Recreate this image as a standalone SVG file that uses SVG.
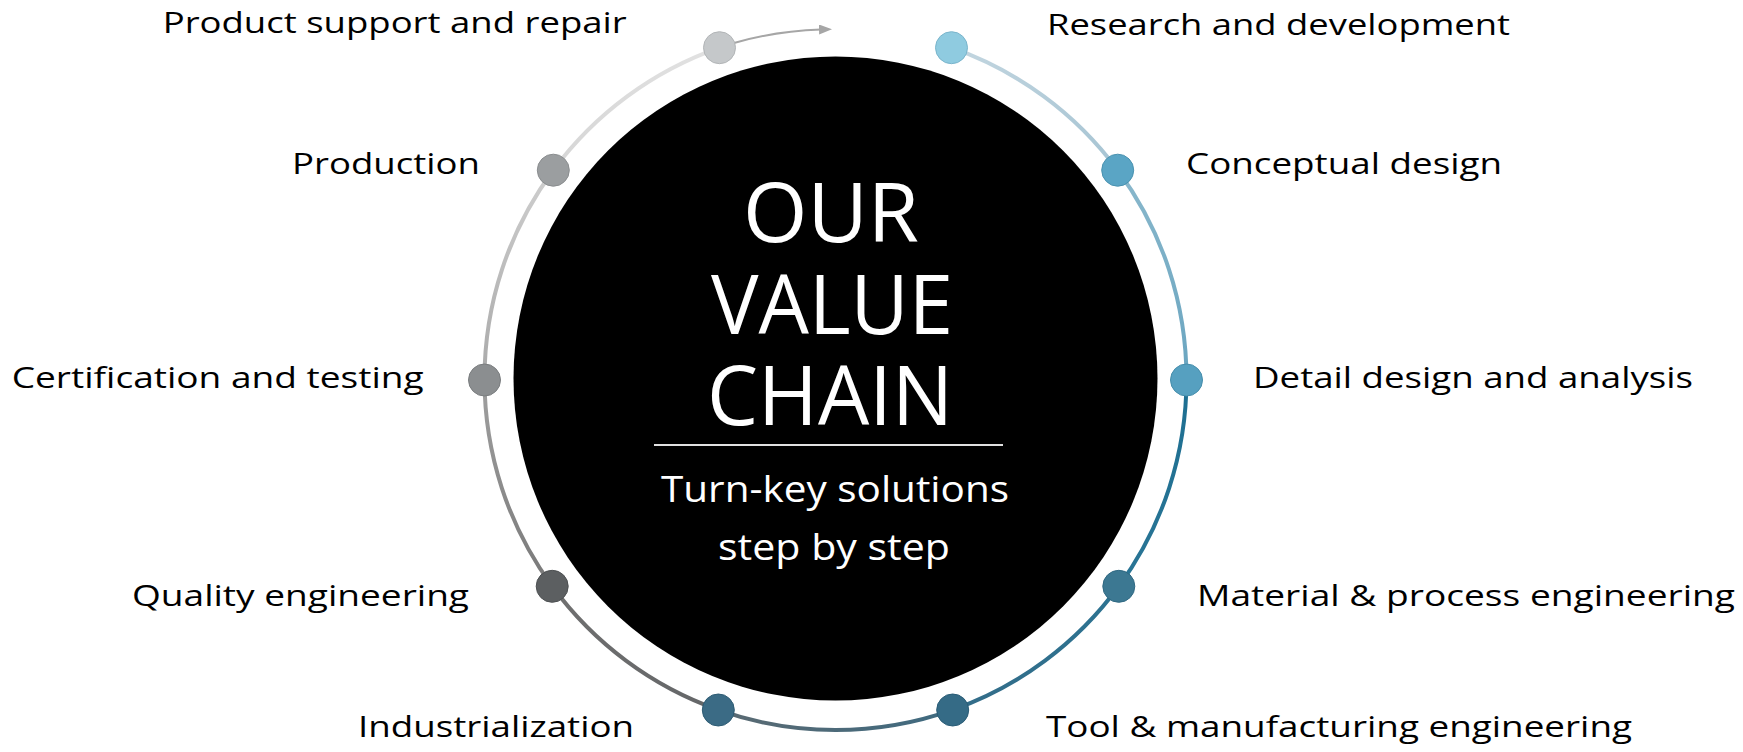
<svg xmlns="http://www.w3.org/2000/svg" width="1743" height="752" viewBox="0 0 1743 752">
<style>
.lbl{font-family:"Open Sans","Liberation Sans",sans-serif;font-size:29px;fill:#000}
.big{font-family:"Open Sans","Liberation Sans",sans-serif;font-size:83px;fill:#fff;text-anchor:middle}
.sub{font-family:"Open Sans","Liberation Sans",sans-serif;font-size:37px;fill:#fff;text-anchor:middle}
.ring{fill:none;stroke-width:4;stroke-linecap:round}
.dot{stroke-width:1}
</style>
<defs>
<linearGradient id="g1" gradientUnits="userSpaceOnUse" x1="951.5" y1="47.7" x2="1117.7" y2="170.2"><stop offset="0" stop-color="#c3d6e0"/><stop offset="1" stop-color="#a6c4d3"/></linearGradient>
<linearGradient id="g2" gradientUnits="userSpaceOnUse" x1="1117.7" y1="170.2" x2="1186.5" y2="379"><stop offset="0" stop-color="#8ab8cc"/><stop offset="1" stop-color="#6aa5c0"/></linearGradient>
<linearGradient id="g3" gradientUnits="userSpaceOnUse" x1="1186.5" y1="379" x2="1118.8" y2="586.3"><stop offset="0" stop-color="#1d6f92"/><stop offset="1" stop-color="#2a7595"/></linearGradient>
<linearGradient id="g4" gradientUnits="userSpaceOnUse" x1="1118.8" y1="586.3" x2="952.7" y2="709.9"><stop offset="0" stop-color="#2c7392"/><stop offset="1" stop-color="#336c88"/></linearGradient>
<linearGradient id="g5" gradientUnits="userSpaceOnUse" x1="952.7" y1="709.9" x2="718.3" y2="709.9"><stop offset="0" stop-color="#3e6a80"/><stop offset="1" stop-color="#5b6a72"/></linearGradient>
<linearGradient id="g6" gradientUnits="userSpaceOnUse" x1="718.3" y1="709.9" x2="552.2" y2="586.3"><stop offset="0" stop-color="#646668"/><stop offset="1" stop-color="#707070"/></linearGradient>
<linearGradient id="g7" gradientUnits="userSpaceOnUse" x1="552.2" y1="586.3" x2="484.5" y2="379"><stop offset="0" stop-color="#787878"/><stop offset="1" stop-color="#a0a0a0"/></linearGradient>
<linearGradient id="g8" gradientUnits="userSpaceOnUse" x1="484.5" y1="379" x2="553.3" y2="170.2"><stop offset="0" stop-color="#aaaaaa"/><stop offset="1" stop-color="#cfcfcf"/></linearGradient>
<linearGradient id="g9" gradientUnits="userSpaceOnUse" x1="553.3" y1="170.2" x2="719.5" y2="47.7"><stop offset="0" stop-color="#d6d6d6"/><stop offset="1" stop-color="#e2e2e2"/></linearGradient>
<marker id="ah" markerWidth="14" markerHeight="10" refX="2" refY="5" orient="auto" markerUnits="userSpaceOnUse"><path d="M0,0 L13,5 L0,10 Z" fill="#a6a6a6"/></marker>
</defs>
<rect width="1743" height="752" fill="#fff"/>
<g id="hub">
<circle cx="835.5" cy="378.5" r="322" fill="#000"/>
<text class="big" x="831" y="242" textLength="176" lengthAdjust="spacingAndGlyphs">OUR</text>
<text class="big" x="832" y="333.5" textLength="242" lengthAdjust="spacingAndGlyphs">VALUE</text>
<text class="big" x="830" y="424.6" textLength="246" lengthAdjust="spacingAndGlyphs">CHAIN</text>
<line x1="654" y1="445" x2="1003" y2="445" stroke="#e0e0e0" stroke-width="2"/>
<text class="sub" x="835" y="501.7" textLength="348" lengthAdjust="spacingAndGlyphs">Turn-key solutions</text>
<text class="sub" x="834" y="560" textLength="232" lengthAdjust="spacingAndGlyphs">step by step</text>
</g>
<g id="connectors">
<path class="ring" stroke="url(#g1)" d="M951.5,47.7 A351,351 0 0 1 1117.7,170.2"/>
<path class="ring" stroke="url(#g2)" d="M1117.7,170.2 A351,351 0 0 1 1186.5,379"/>
<path class="ring" stroke="url(#g3)" d="M1186.5,379 A351,351 0 0 1 1118.8,586.3"/>
<path class="ring" stroke="url(#g4)" d="M1118.8,586.3 A351,351 0 0 1 952.7,709.9"/>
<path class="ring" stroke="url(#g5)" d="M952.7,709.9 A351,351 0 0 1 718.3,709.9"/>
<path class="ring" stroke="url(#g6)" d="M718.3,709.9 A351,351 0 0 1 552.2,586.3"/>
<path class="ring" stroke="url(#g7)" d="M552.2,586.3 A351,351 0 0 1 484.5,379"/>
<path class="ring" stroke="url(#g8)" d="M484.5,379 A351,351 0 0 1 553.3,170.2"/>
<path class="ring" stroke="url(#g9)" d="M553.3,170.2 A351,351 0 0 1 719.5,47.7"/>
<path d="M734,43 Q775,31 821,29.5" fill="none" stroke="#a6a6a6" stroke-width="2" marker-end="url(#ah)"/>
</g>
<g id="n-research"><circle class="dot" cx="951.5" cy="47.7" r="16" fill="#8fcbe0" stroke="#7ab5cc"/><text class="lbl" x="1047" y="35" textLength="463" lengthAdjust="spacingAndGlyphs">Research and development</text></g>
<g id="n-conceptual"><circle class="dot" cx="1117.7" cy="170.2" r="16" fill="#5aa5c5" stroke="#4a92b0"/><text class="lbl" x="1186" y="174" textLength="316" lengthAdjust="spacingAndGlyphs">Conceptual design</text></g>
<g id="n-detail"><circle class="dot" cx="1186.5" cy="380" r="16" fill="#56a0c0" stroke="#468eac"/><text class="lbl" x="1253" y="387.7" textLength="440" lengthAdjust="spacingAndGlyphs">Detail design and analysis</text></g>
<g id="n-material"><circle class="dot" cx="1118.8" cy="586.3" r="16" fill="#3c7892" stroke="#2f6882"/><text class="lbl" x="1197" y="606" textLength="538" lengthAdjust="spacingAndGlyphs">Material &amp; process engineering</text></g>
<g id="n-tool"><circle class="dot" cx="952.7" cy="710" r="16" fill="#356b86" stroke="#2a5c76"/><text class="lbl" x="1046" y="737" textLength="586" lengthAdjust="spacingAndGlyphs">Tool &amp; manufacturing engineering</text></g>
<g id="n-industrialization"><circle class="dot" cx="718.3" cy="710" r="16" fill="#3b6b85" stroke="#2e5c74"/><text class="lbl" x="358" y="737" textLength="276" lengthAdjust="spacingAndGlyphs">Industrialization</text></g>
<g id="n-quality"><circle class="dot" cx="552.2" cy="586.3" r="16" fill="#5c5f61" stroke="#4d5052"/><text class="lbl" x="132" y="606" textLength="337" lengthAdjust="spacingAndGlyphs">Quality engineering</text></g>
<g id="n-certification"><circle class="dot" cx="484.5" cy="380" r="16" fill="#8b8e90" stroke="#7a7d7f"/><text class="lbl" x="11.7" y="387.7" textLength="412" lengthAdjust="spacingAndGlyphs">Certification and testing</text></g>
<g id="n-production"><circle class="dot" cx="553.3" cy="170.2" r="16" fill="#9b9ea0" stroke="#8a8d8f"/><text class="lbl" x="292" y="174" textLength="188" lengthAdjust="spacingAndGlyphs">Production</text></g>
<g id="n-support"><circle class="dot" cx="719.5" cy="47.7" r="16" fill="#c5c8ca" stroke="#b2b5b7"/><text class="lbl" x="162.7" y="33" textLength="464" lengthAdjust="spacingAndGlyphs">Product support and repair</text></g>
</svg>
